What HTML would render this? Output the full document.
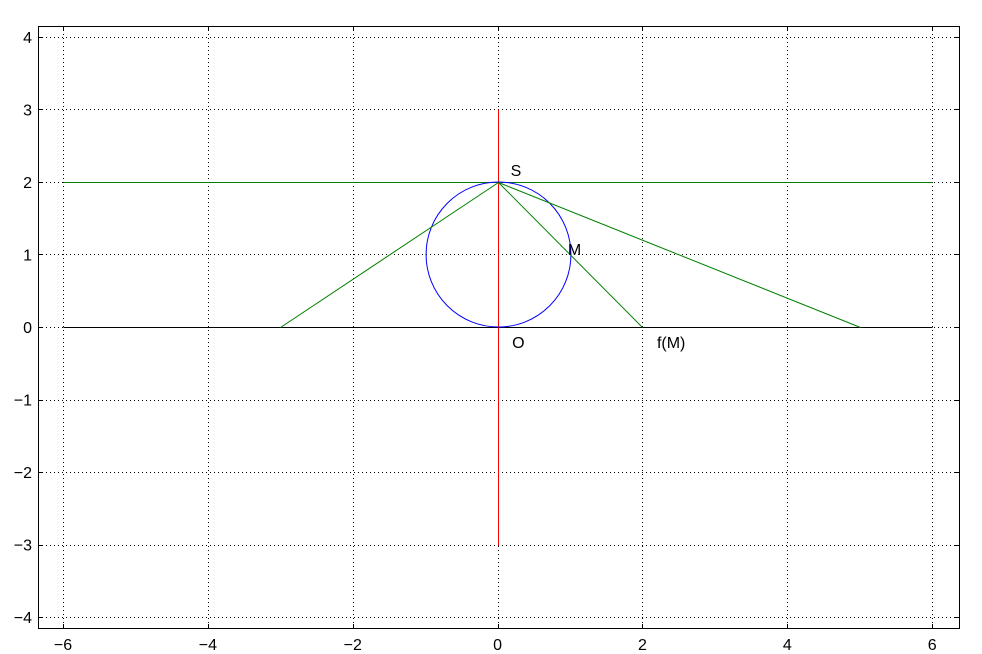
<!DOCTYPE html>
<html><head><meta charset="utf-8"><style>body{margin:0;background:#fff}svg{display:block;font-family:"Liberation Sans",sans-serif}</style></head>
<body>
<svg id="chart" width="982" height="654"></svg>
<script>
const xTicks=[-6,-4,-2,0,2,4,6];
const yTicks=[-4,-3,-2,-1,0,1,2,3,4];
const greenHLine=[[-6,2],[6,2]];
const blackHLine=[[-6,0],[6,0]];
const redVLine=[[0,-3],[0,3]];
const circleCenter=[0,1];
const circleRadius=1;
const rayEnds=[-3,2,5];
const rayApex=[0,2];
const labels=[["S",0.18,2.15],["M",0.97,1.06],["O",0.2,-0.22],["f(M)",2.2,-0.22]];
const L=38,R=959,T=26,B=628,xmin=-6.345,xmax=6.37,ymin=-4.15,ymax=4.15;
const X=v=>L+(v-xmin)/(xmax-xmin)*(R-L);
const Y=v=>B-(v-ymin)/(ymax-ymin)*(B-T);
const P=v=>Math.round(v)+0.5;
const svg=document.getElementById('chart');
const NS='http://www.w3.org/2000/svg';
function mk(t,a){const e=document.createElementNS(NS,t);for(const k in a)e.setAttribute(k,a[k]);svg.appendChild(e);return e;}
xTicks.forEach(v=>{
const g=mk('line',{x1:P(X(v)),x2:P(X(v)),y1:T,y2:B,stroke:'#000','stroke-dasharray':'1,3','stroke-width':1});


mk('line',{x1:P(X(v)),x2:P(X(v)),y1:B,y2:B-4,stroke:'#000'});
mk('line',{x1:P(X(v)),x2:P(X(v)),y1:T,y2:T+4,stroke:'#000'});
const t=mk('text',{x:X(v),y:B+22,'text-anchor':'middle','font-size':16});
t.textContent=(v<0?'\u2212'+(-v):v);


});
yTicks.forEach(v=>{
const g=mk('line',{x1:L,x2:R,y1:P(Y(v)),y2:P(Y(v)),stroke:'#000','stroke-dasharray':'1,3','stroke-width':1});


mk('line',{x1:L,x2:L+4,y1:P(Y(v)),y2:P(Y(v)),stroke:'#000'});
mk('line',{x1:R,x2:R-4,y1:P(Y(v)),y2:P(Y(v)),stroke:'#000'});
const t=mk('text',{x:L-6,y:Y(v)+6,'text-anchor':'end','font-size':16});
t.textContent=(v<0?'\u2212'+(-v):v);


});
function seg(p,c,n){const e=mk('line',{x1:P(X(p[0][0])),y1:P(Y(p[0][1])),x2:P(X(p[1][0])),y2:P(Y(p[1][1])),stroke:c});

}
seg(greenHLine,'#008000','line-y2');
seg(blackHLine,'#000','line-y0');
seg(redVLine,'#ff0000','vertical-axis-line');
const c=mk('ellipse',{cx:P(X(circleCenter[0])),cy:P(Y(circleCenter[1])),rx:X(circleRadius)-X(0),ry:Y(0)-Y(circleRadius),fill:'none',stroke:'#0000ff'});


rayEnds.forEach(x=>seg([rayApex,[x,0]],'#008000','projection-ray'));
labels.forEach(l=>{const t=mk('text',{x:X(l[1]),y:Y(l[2])+5,'font-size':16});t.textContent=l[0];

});
const f=mk('rect',{x:L+0.5,y:T+0.5,width:R-L,height:B-T,fill:'none',stroke:'#000'});


</script>
</body></html>
